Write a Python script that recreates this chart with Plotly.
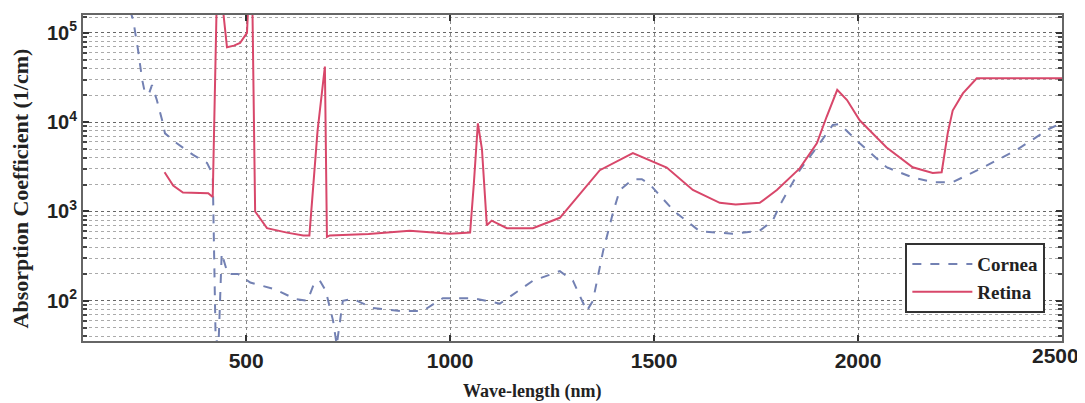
import plotly.graph_objects as go

# Cornea (dashed) wavelength (nm) / absorption coefficient (1/cm)
cornea_nm = [215, 223, 235, 245, 252, 262, 269, 281, 294, 301, 330, 370, 404, 412, 418, 425, 432,
             440, 455, 480, 510, 570, 620, 650, 665, 680, 695, 713, 722, 737, 762, 811, 877, 933,
             982, 1056, 1122, 1203, 1269, 1301, 1335, 1350, 1375, 1400, 1416, 1448, 1470, 1490,
             1550, 1612, 1693, 1759, 1791, 1808, 1857, 1906, 1938, 1955, 2004, 2070, 2134, 2183,
             2232, 2306, 2389, 2470, 2500]
cornea_val = [1.8e5, 1.4e5, 6.4e4, 3.0e4, 2.1e4, 2.1e4, 2.6e4, 1.77e4, 1.05e4, 7.5e3, 5.8e3, 4.3e3,
              3.5e3, 2.9e3, 2.6e3, 40, 30,
              340, 200, 200, 160, 135, 105, 100, 150, 170, 130, 60, 32, 100, 105, 83, 77, 77,
              107, 107, 93, 168, 215, 168, 77, 100, 360, 1000, 1740, 2300, 2300, 2000,
              1000, 600, 565, 610, 790, 1170, 2900, 5800, 9300, 9500, 5800, 3130, 2400, 2130,
              2130, 3100, 4900, 8500, 9800]

# Retina (solid)
retina_nm = [300, 321, 345, 387, 407, 418, 428, 440, 453, 470, 485, 502, 506, 515, 522, 551, 600,
             640, 655, 675, 693, 698, 705, 800, 901, 999, 1049, 1058, 1068, 1078, 1090, 1102, 1139,
             1203, 1269, 1367, 1448, 1531, 1595, 1661, 1700, 1759, 1801, 1857, 1899, 1923, 1949,
             1973, 2004, 2070, 2134, 2183, 2205, 2220, 2232, 2257, 2291, 2500]
retina_val = [2750, 1950, 1630, 1600, 1600, 1450, 2.5e5, 2.5e5, 6.9e4, 7.2e4, 7.7e4, 1.0e5, 2.5e5,
              2.5e5, 1000, 650, 580,
              540, 540, 8000, 4.2e4, 520, 540, 560, 610, 565, 580, 2000, 9700, 5000, 700, 790, 650,
              650, 850, 2900, 4500, 3100, 1740, 1250, 1200, 1250, 1740, 3040, 5800, 1.15e4, 2.3e4,
              1.77e4, 1.05e4, 5200, 3130, 2700, 2750, 7600, 1.35e4, 2.1e4, 3.1e4, 3.1e4]

x_ticks = [500, 1000, 1500, 2000]
x_ticktext = ["<b>500</b>", "<b>1000</b>", "<b>1500</b>", "<b>2000</b>"]
x_end_tick = 2500
x_end_ticktext = "<b>2500</b>"
y_ticks = [1e2, 1e3, 1e4, 1e5]
y_ticktext = ["<b>10<sup>2</sup></b>", "<b>10<sup>3</sup></b>", "<b>10<sup>4</sup></b>", "<b>10<sup>5</sup></b>"]
y_minor_ticks = [40, 50, 60, 70, 80, 90,
                 200, 300, 400, 500, 600, 700, 800, 900,
                 2000, 3000, 4000, 5000, 6000, 7000, 8000, 9000,
                 20000, 30000, 40000, 50000, 60000, 70000, 80000, 90000, 150000]

fig = go.Figure()
fig.add_trace(go.Scatter(x=cornea_nm, y=cornea_val, mode="lines", name="<b>Cornea</b>",
                         line=dict(color="#7381b3", width=2, dash="dash")))
fig.add_trace(go.Scatter(x=retina_nm, y=retina_val, mode="lines", name="<b>Retina</b>",
                         line=dict(color="#d8476a", width=2)))

serif = "Liberation Serif"
tickfont_x = dict(family="Liberation Sans", size=21, color="#222")
# the page body has an 8px margin, so the figure is sized/offset to compensate
fig.update_layout(
    width=1077, height=395,
    margin=dict(l=75, r=23, t=7, b=62),
    paper_bgcolor="white", plot_bgcolor="white",
    showlegend=True,
    legend=dict(x=0.983, y=0.30, xanchor="right", yanchor="top",
                bordercolor="#333333", borderwidth=2, bgcolor="white",
                font=dict(family=serif, size=19, color="#222"),
                itemwidth=60, tracegroupgap=0),
    xaxis=dict(range=[100, 2500], tickvals=x_ticks, ticktext=x_ticktext,
               tickfont=tickfont_x,
               ticks="inside", ticklen=6, tickwidth=2, tickcolor="#333",
               showline=True, linecolor="#666", linewidth=2, mirror="ticks",
               showgrid=True, gridcolor="#888", griddash="dot", gridwidth=1,
               zeroline=False, automargin=False),
    yaxis=dict(type="log", range=[1.55, 5.2], tickvals=y_ticks, ticktext=y_ticktext,
               tickfont=dict(family="Liberation Sans", size=20, color="#222"),
               ticks="inside", ticklen=6, tickwidth=2, tickcolor="#333",
               showline=True, linecolor="#666", linewidth=2, mirror="ticks",
               showgrid=True, gridcolor="#666", griddash="dot", gridwidth=1,
               zeroline=False, automargin=False,
               minor=dict(tickmode="array", tickvals=y_minor_ticks,
                          ticks="inside", ticklen=4, tickcolor="#444", showgrid=True,
                          gridcolor="#aaa", griddash="dot", gridwidth=1)),
    annotations=[
        # last x tick label, nudged left so it stays inside the page like the reference
        dict(text=x_end_ticktext, xref="x", yref="paper", x=x_end_tick, y=0,
             xanchor="center", yanchor="middle", xshift=-7, yshift=-14,
             showarrow=False, font=tickfont_x),
        dict(text="<b>Wave-length (nm)</b>", xref="paper", yref="paper", x=0.459, y=-0.156,
             xanchor="center", yanchor="middle", showarrow=False,
             font=dict(family=serif, size=18, color="#222")),
        dict(text="<b>Absorption Coefficient (1/cm)</b>", xref="paper", yref="paper",
             x=-0.064, y=0.469, xanchor="center", yanchor="middle", textangle=-90,
             showarrow=False, font=dict(family=serif, size=22, color="#222")),
    ],
)
fig.write_html("out.html")
